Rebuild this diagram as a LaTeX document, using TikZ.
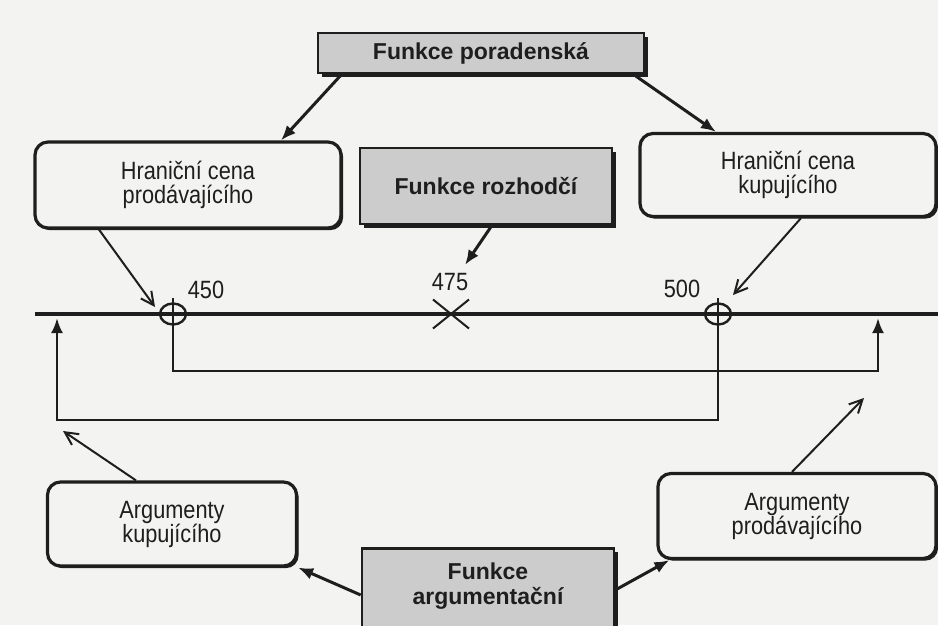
\documentclass[tikz,border=0pt]{standalone}
\usepackage{fontspec}
\setmainfont{Liberation Sans}
\newfontfamily\narrowsans[FakeStretch=0.87]{Liberation Sans}
\usetikzlibrary{arrows.meta,calc,shadows,shapes.geometric,shapes.misc}

\definecolor{paper}{RGB}{243,243,241}
\definecolor{ink}{RGB}{30,30,30}
\definecolor{boxgray}{RGB}{204,204,204}

\tikzset{
  txt/.style={text=ink, font=\narrowsans\fontsize{25}{24}\selectfont, align=center, inner sep=0pt},
  roundbox/.style={txt, draw=ink, line width=3.2pt, rounded corners=13pt, fill=paper,
    drop shadow={shadow xshift=2.2pt, shadow yshift=-2.2pt, fill=ink, opacity=1}},
  graybox/.style={txt, font=\fontsize{23}{25}\selectfont\bfseries, draw=ink, line width=2.6pt, fill=boxgray,
    drop shadow={shadow xshift=3.5pt, shadow yshift=-3.5pt, fill=ink, opacity=1}},
  ring/.style={ellipse, draw=ink, line width=2.4pt, minimum width=26pt, minimum height=21pt, inner sep=0pt},
  mark475/.style={cross out, draw=ink, line width=2pt, minimum width=34pt, minimum height=27pt, inner sep=0pt},
  solidarrow/.style={draw=ink, line width=3pt, -{Latex[length=15pt,width=12pt]}},
  openarrow/.style={draw=ink, line width=2pt, -{Straight Barb[length=13pt,width=13pt,line width=2pt]}},
  axis/.style={draw=ink, line width=3.8pt},
  loopline/.style={draw=ink, line width=2.8pt, -{Latex[length=15pt,width=12pt]}}
}

\begin{document}
\begin{tikzpicture}[x=1pt,y=-1pt]
\useasboundingbox (0,0) rectangle (938,625);
\fill[paper] (0,0) rectangle (938,625);

% boxes
\node[graybox, minimum width=326pt, minimum height=40pt] (por) at (481,53) {Funkce poradenská};
\node[roundbox, minimum width=306pt, minimum height=86pt] (hcp) at (188,185) {Hraniční cena\\prodávajícího};
\node[graybox, minimum width=252pt, minimum height=76pt] (roz) at (486,186) {Funkce rozhodčí};
\node[roundbox, minimum width=296pt, minimum height=83pt] (hck) at (788,175) {Hraniční cena\\kupujícího};
\node[roundbox, minimum width=249pt, minimum height=84pt] (ak) at (172,524) {Argumenty\\kupujícího};
\node[roundbox, minimum width=278pt, minimum height=85pt] (ap) at (797,516) {Argumenty\\prodávajícího};
\node[graybox, anchor=north, minimum width=252pt, inner ysep=15pt, text depth=50pt] (arg) at (488,547) {Funkce\\argumentační};

% price axis
\coordinate (a0) at (35,314);
\coordinate (a1) at (938,314);
\draw[axis] (a0) -- (a1);
\node[ring] (c450) at (173,314) {};
\node[ring] (c500) at (718,314) {};
\node[mark475] (x475) at (451,314) {};
\node[txt] (n450) at (206,290) {450};
\node[txt] (n475) at (450,282) {475};
\node[txt] (n500) at (682,289) {500};

% feedback loops back to the axis
\coordinate (t1) at (878,318);
\coordinate (t2) at (57,318);
\draw[loopline] ($(c450.north)+(0,-4)$) |- ($(t1)+(0,53)$) -- (t1);
\draw[loopline] ($(c500.north)+(0,-4)$) |- ($(t2)+(0,102)$) -- (t2);

% connectors
\draw[solidarrow] ($(por.south west)+(25,0)$) -- ($(hcp.north)+(93,0)$);
\draw[solidarrow] ($(por.south east)+(-12,0)$) -- ($(hck.north)+(-72,0)$);
\draw[openarrow] ($(hcp.south)+(-89,0)$) -- ($(c450)+(-18,-7)$);
\draw[openarrow] ($(hck.south)+(13,0)$) -- ($(c500)+(15,-19)$);
\draw[solidarrow] ($(roz.south)+(6,0)$) -- ($(n475)+(15,-17)$);

\coordinate (k1) at (63,431);
\coordinate (p1) at (864,398);
\draw[openarrow] ($(ak.north)+(-36,0)$) -- (k1);
\draw[openarrow] ($(ap.north)+(-5,0)$) -- (p1);
\draw[solidarrow] ($(arg.north west)+(0,48)$) -- (ak.south east);
\draw[solidarrow] ($(arg.north east)+(0,43)$) -- ($(ap.south west)+(13,0)$);
\end{tikzpicture}
\end{document}
